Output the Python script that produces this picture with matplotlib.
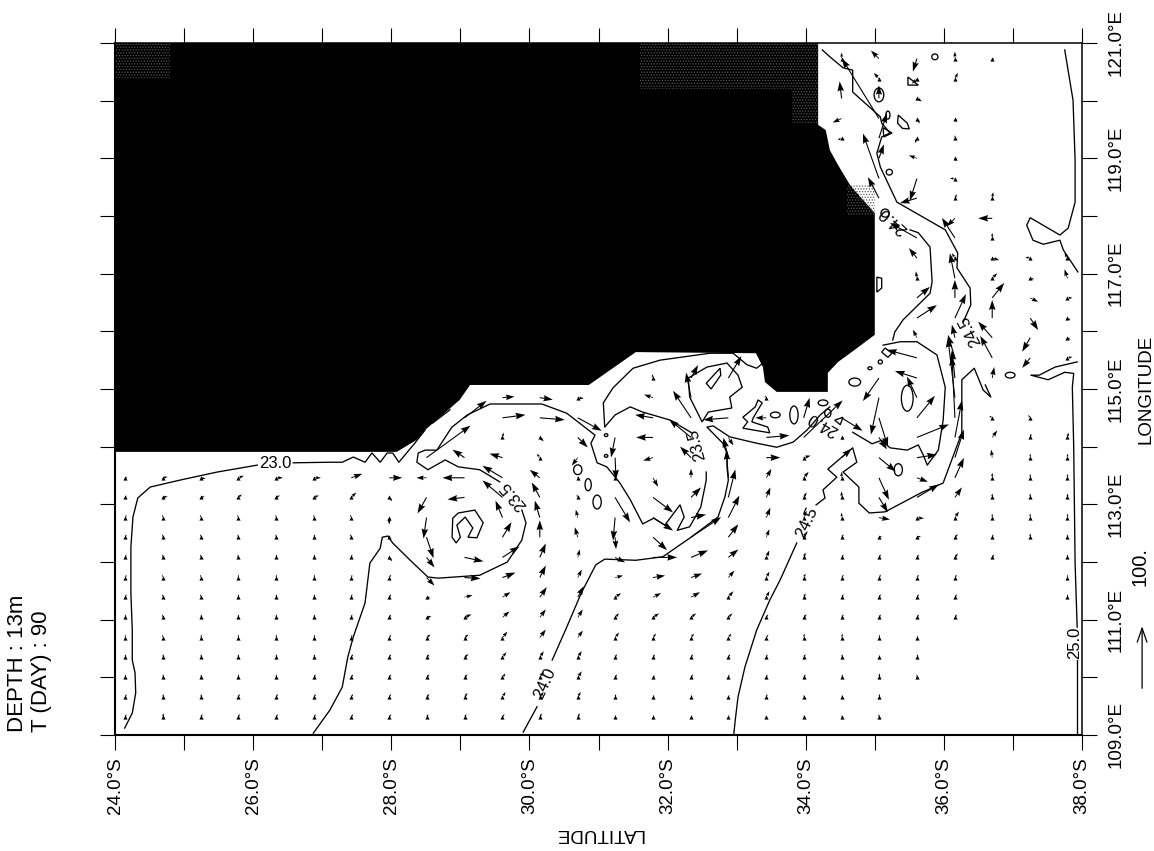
import matplotlib
matplotlib.use("Agg")
import matplotlib.pyplot as plt
from matplotlib.patches import Polygon, Ellipse, Rectangle
import numpy as np

plt.rcParams["font.family"] = ["Liberation Sans", "DejaVu Sans"]
plt.rcParams["hatch.linewidth"] = 0.6

n = np.nan

# ===== AXES =====
LAT_TICKS = list(range(24, 39))
LON_TICKS = list(range(109, 122))
LAT_LABELS = ["24.0°S", "", "26.0°S", "", "28.0°S", "", "30.0°S", "", "32.0°S", "", "34.0°S", "", "36.0°S", "", "38.0°S"]
LON_LABELS = ["109.0°E", "", "111.0°E", "", "113.0°E", "", "115.0°E", "", "117.0°E", "", "119.0°E", "", "121.0°E"]

# ===== LAND =====
land = [(24, 121), (34.18, 121), (34.18, 119.58), (34.29, 119.49), (34.35, 119.14), (34.47, 118.88),
        (34.64, 118.54), (34.74, 118.40), (35.00, 118.05), (35.00, 115.94), (34.71, 115.68), (34.47, 115.47),
        (34.32, 115.28), (34.32, 114.95), (33.58, 114.95), (33.41, 115.12), (33.38, 115.38), (33.28, 115.62),
        (31.54, 115.64), (30.86, 115.07), (29.14, 115.07), (28.99, 114.81), (28.49, 114.29), (28.37, 114.12),
        (28.08, 113.91), (24, 113.91)]

# ===== ISOTHERMS (lat, lon) =====
iso_lines = [
    # 23.0
    [(24.14, 109.12), (24.25, 109.38), (24.30, 109.73), (24.29, 110.08), (24.25, 110.30), (24.25, 110.82),
     (24.23, 111.46), (24.23, 112.26), (24.26, 112.78), (24.33, 113.11), (24.51, 113.30), (24.94, 113.42),
     (25.48, 113.56), (26.06, 113.68)],
    [(26.58, 113.72), (27.11, 113.73), (27.29, 113.73), (27.45, 113.82), (27.62, 113.73), (27.72, 113.89),
     (27.84, 113.73), (27.94, 113.89), (28.02, 113.89), (28.11, 113.73), (28.34, 114.06), (28.49, 114.29)],
    [(28.60, 114.41), (28.85, 114.64)],
    # 23.5
    [(26.87, 109.03), (27.11, 109.43), (27.29, 109.83), (27.37, 110.35), (27.45, 110.70), (27.62, 111.29),
     (27.69, 111.98), (27.84, 112.24), (27.87, 112.43), (27.95, 112.45), (28.02, 112.33), (28.30, 112.00),
     (28.53, 111.74), (28.68, 111.72), (29.28, 111.77), (29.68, 112.00), (29.89, 112.38), (29.95, 112.68),
     (29.89, 112.90)],
    [(29.57, 113.39), (29.28, 113.60), (28.97, 113.65), (28.78, 113.77), (28.53, 113.60), (28.37, 113.73),
     (28.39, 113.89), (28.49, 113.94), (28.66, 113.94), (28.85, 114.29), (28.88, 114.34), (29.10, 114.55),
     (29.43, 114.74), (30.18, 114.74), (30.54, 114.58), (30.95, 114.20), (30.89, 114.06), (30.98, 113.72),
     (31.12, 113.65), (31.31, 113.37), (31.46, 113.08), (31.64, 112.66), (31.80, 112.76), (31.96, 112.64),
     (32.18, 112.99), (32.24, 112.78), (32.14, 112.55), (32.32, 112.61), (32.48, 112.95), (32.56, 113.42),
     (32.56, 113.56)],
    [(32.35, 114.24), (32.04, 114.46), (31.64, 114.60), (31.46, 114.69), (31.24, 114.55), (31.09, 114.34),
     (31.07, 114.76), (31.21, 115.02), (31.50, 115.36), (31.89, 115.50), (32.61, 115.62), (32.95, 115.62),
     (33.15, 115.42), (33.29, 115.36), (33.38, 115.45)],
    # 24.0
    [(34.35, 114.69), (34.21, 114.55), (34.02, 114.29), (33.82, 114.08), (33.58, 113.99), (33.29, 114.06),
     (32.90, 114.17), (32.66, 114.36), (32.57, 114.34), (32.80, 114.06), (32.86, 113.89), (32.86, 113.65),
     (32.88, 113.42), (32.83, 113.13), (32.73, 112.78), (32.34, 112.43), (31.93, 112.09), (31.54, 112.03),
     (31.09, 112.05), (30.96, 111.95), (30.75, 111.46), (30.54, 110.87), (30.33, 110.30)],
    [(30.11, 109.49), (29.91, 109.05)],
    [(35.12, 115.76), (35.37, 115.82), (35.61, 115.82), (35.90, 115.59), (36.02, 115.03), (35.99, 114.46),
     (35.92, 113.94), (35.76, 113.68), (35.70, 113.86), (35.63, 114.03), (35.47, 113.94), (35.22, 113.98),
     (35.10, 114.11), (34.96, 114.05), (34.68, 114.25)],
    [(35.26, 115.85), (35.29, 115.99), (35.41, 116.20), (35.80, 116.66), (35.83, 116.86), (35.80, 117.46),
     (35.63, 117.71), (35.51, 117.76)],
    # 24.5
    [(32.96, 109.03), (32.98, 109.26), (33.02, 109.66), (33.12, 110.18), (33.29, 110.82), (33.48, 111.34),
     (33.63, 111.69), (33.87, 112.33)],
    [(34.15, 112.99), (34.28, 113.11), (34.25, 113.25), (34.45, 113.47), (34.32, 113.61), (34.68, 113.98),
     (34.74, 113.73), (34.54, 113.56), (34.77, 113.30), (34.77, 113.02), (34.92, 112.85), (35.15, 112.87),
     (35.67, 113.20), (35.99, 113.37), (36.26, 114.24), (36.26, 115.16), (36.44, 115.36), (36.57, 114.98),
     (36.68, 114.86), (36.60, 115.07)],
    [(36.28, 116.16), (36.39, 116.46), (36.38, 116.75), (36.19, 117.10), (36.20, 117.36), (36.02, 117.76),
     (35.32, 118.24), (35.08, 118.85), (35.03, 119.09), (35.10, 119.37), (35.22, 119.44), (35.10, 119.61),
     (35.08, 119.72), (34.68, 120.15), (34.68, 120.53), (34.54, 120.57), (34.35, 120.76), (34.24, 120.88)],
    # 25.0
    [(37.75, 120.88), (37.87, 120.01), (37.90, 118.97), (37.90, 118.24), (37.80, 117.79), (37.68, 117.67),
     (37.25, 117.97), (37.20, 117.84), (37.29, 117.58), (37.44, 117.51), (37.68, 117.58), (37.73, 117.41),
     (37.94, 117.03)],
    [(37.93, 115.47), (37.61, 115.38), (37.38, 115.24), (37.26, 115.24), (37.51, 115.16), (37.75, 115.29),
     (37.88, 115.27), (37.86, 115.03), (37.88, 113.99), (37.90, 111.98), (37.93, 110.87)],
    [(37.93, 110.30), (37.93, 109.03)],
]

iso_closed = [
    [(28.89, 112.76), (28.97, 112.85), (29.21, 112.90), (29.33, 112.68), (29.24, 112.42), (29.11, 112.43),
     (29.18, 112.59), (29.07, 112.78), (28.95, 112.64), (29.00, 112.43), (28.94, 112.33), (28.88, 112.43)],
    [(32.30, 115.19), (32.32, 114.86), (32.50, 114.43), (32.59, 114.60), (32.93, 114.67), (32.90, 114.86),
     (33.08, 115.03), (33.02, 115.24), (32.86, 115.45), (32.57, 115.38)],
    [(32.76, 115.36), (32.77, 115.24), (32.63, 115.00), (32.56, 115.10)],
    [(33.09, 114.51), (33.27, 114.69), (33.31, 114.81), (33.37, 114.76), (33.24, 114.50), (33.22, 114.43),
     (33.45, 114.34), (33.48, 114.24), (33.09, 114.32), (33.16, 114.43)],
    [(35.48, 120.41), (35.63, 120.27), (35.48, 120.27)],
    [(35.34, 119.75), (35.33, 119.61), (35.40, 119.52), (35.50, 119.51), (35.47, 119.61)],
    [(35.12, 119.53), (35.25, 119.44), (35.13, 119.37)],
    [(35.15, 115.71), (35.25, 115.62), (35.19, 115.55), (35.10, 115.64)],
    [(35.03, 116.94), (35.10, 116.92), (35.10, 116.75), (35.03, 116.68)],
    [(34.42, 114.46), (34.54, 114.51), (34.50, 114.38)],
]

ring_lat = [30.70, 30.85, 30.98, 31.11, 31.11, 33.56, 33.83, 34.25, 34.32, 34.71, 35.08, 34.93, 35.47, 35.34,
            35.87, 35.06, 35.19, 35.21, 35.15, 36.96]
ring_lon = [113.60, 113.34, 113.04, 114.20, 113.84, 114.55, 114.55, 114.76, 114.58, 115.12, 115.47, 115.36,
            114.84, 113.60, 120.76, 120.10, 119.75, 118.76, 118.05, 115.24]
ring_w = [.12, .09, .12, .05, .05, .14, .12, .14, .09, .17, .06, .06, .17, .12, .09, .14, .06, .09, .12, .14]
ring_h = [.17, .21, .24, .05, .05, .10, .31, .10, .14, .14, .07, .05, .45, .21, .10, .24, .14, .10, .14, .10]

iso_text = ["23.0", "23.5", "23.5", "24.0", "24.5", "24.5", "24.0", "24.0", "25.0"]
iso_text_lat = [26.32, 29.77, 32.42, 30.23, 34.02, 36.38, 35.26, 34.25, 37.90]
iso_text_lon = [113.70, 113.15, 114.03, 109.90, 112.68, 116.02, 117.93, 114.40, 110.60]
iso_text_rot = [0, 130, 105, 65, 65, 117, 138, 150, 90]

# ===== CURRENT VECTORS (arrow length, KEY_LEN = 100.) =====
KEY_LEN = 62
vec_lat = [24.15, 24.69, 25.24, 25.78, 26.33, 26.88, 27.42, 27.97, 28.51, 29.06, 29.61, 30.15, 30.70,
           31.24, 31.79, 32.34, 32.88, 33.43, 33.97, 34.52, 35.06, 35.61, 36.16, 36.70, 37.25, 37.79]
vec_lon = [109.31, 109.66, 110.00, 110.35, 110.69, 111.04, 111.39, 111.73, 112.08, 112.43, 112.77, 113.12,
           113.46, 113.81, 114.16, 114.50, 114.85, 115.19, 115.54, 115.89, 116.23, 116.58, 116.92, 117.27,
           117.62, 117.96, 118.31, 118.65, 119.00, 119.35, 119.69, 120.04, 120.38, 120.73]

u_rows = [
    [1, 1, 2, 2, 2, 2, 2, 2, 2, 2, 2, 2, 2, 1, 1, 1, 1, -1, 1, 0, 0],
    [1, 1, 1, 2, 2, 2, 2, 2, 3, 3, 3, 4, 3, 1, 1, 1, 1, 1, 0, 1, 1],
    [0, 1, 1, 1, 1, 2, 2, 2, 3, 3, 3, 4, 4, 2, 2, 2, 1, 1, 2, 1, 1, 0],
    [0, 1, 1, 1, 1, 1, 2, 2, 3, 4, 4, 4, 4, 2, 2, 2, 2, 1, 2, 1, 1, 1],
    [0, 0, 1, 1, 1, 1, 1, 2, 4, 4, 5, 6, 5, 4, 3, 3, 3, 2, 1, 1, 1, 1],
    [0, 0, 1, 1, 1, 1, 1, 2, 5, 7, 7, 6, 5, 4, 6, 5, 4, 2, 3, 2, 2, 2, 2],
    [1, 0, 0, 1, 1, 1, 1, 2, 4, 8, 8, 7, 6, 6, 8, 9, 5, 3, 2, 2, 2, 2, 2, n, n, 0],
    [1, 0, 0, 1, 1, 1, 1, 2, 8, 16, 13, 6, 4, 8, 12, 11, 6, 3, 2, 2, 2, 2, 2, n, n, 0],
    [1, 0, 0, 0, 1, 1, 1, 3, 8, 19, 17, 6, 2, 10, 24, 17, 10, 3, 2, 2, 2, 2, 3, 2, n, 0],
    [1, 0, 0, 0, 0, 1, -1, 0, 7, n, 9, 0, -3, 1, 14, 30, 10, 3, 2, 2, 3, 4, 3, 1, 0, 0],
    [1, 0, 0, 0, 0, 0, -1, 0, -3, n, -7, -5, -2, -2, 20, 15, 11, 4, 3, 0, 11, 7, 4, 0, 0, 0],
    [1, 5, 4, 4, 4, 5, 5, 3, -9, -17, -20, -8, -1, 15, 20, 10, 7, 4, 3, 0, 9, 22, 7, 0, 0, 0],
    [2, 5, 5, 6, 7, 7, 11, 13, -10, -22, -20, -10, 0, 1, 5, 0, -2, 5, 5, 0, 10, 11, 9, 0, 0, 0],
    [n] * 8 + [44, -12, -13, -3, -6, 1, -10, -11, -5, 14, 7, 10, 17, 20, 9, -1, 0, 0],
    [n] * 10 + [1, 4, 10, -4, -17, -22, 5, 23, 39, 1, 8, 32, 7, 5, 1, 1],
    [n] * 9 + [22, 23, 25, 24, n, -18, -18, -25, -11, 6, 21, 9, 18, -3, -3, -2],
    [n] * 10 + [12, 13, 6, n, -9, -5, n, -2, n, n, -8, -10, -7],
    [n] * 14 + [-1, 7, 13, n, n, n, -16, -22, -3, 2],
    [n] * 21 + [-30, -7, -12, -8, 5],
    [n] * 21 + [-4, -3, -14, -8, 3],
    [n] * 21 + [20, 11, 0, 8, 3],
    [n] * 21 + [13, 0, 12, 8, 5],
    [n] * 21 + [-1, -5, 5, 4, -3],
    [n] * 21 + [-8, -3, 7, -5, -3],
    [n] * 21 + [-27, -13, 0],
    [n] * 22 + [-8, -14],
    [n] * 20 + [-11, -17, 2, 1],
    [n] * 20 + [-16, -7, -5],
    [n] * 20 + [5, -8, 2],
    [n] * 19 + [-4, 8, -2, 0],
    [n] * 19 + [-9, -37, 3, 2],
    [n] * 19 + [-2, 0, 5],
    [n] * 20 + [-5, -5, 3],
    [n] * 19 + [0, -8, -4, 0, 2],
]
v_rows = [
    [3, 4, 3, 3, 3, 3, 3, 3, 3, 3, 3, 4, 4, 2, 2, 2, 2, 1, 2, 2, 3],
    [3, 3, 3, 3, 3, 3, 3, 3, 3, 4, 5, 5, 5, 3, 2, 2, 2, 3, 2, 2, 3],
    [3, 3, 3, 3, 3, 3, 3, 3, 3, 3, 4, 6, 6, 3, 2, 3, 3, 3, 3, 3, 4, 3],
    [3, 3, 3, 3, 3, 3, 3, 3, 3, 3, 5, 6, 6, 3, 3, 3, 3, 3, 3, 3, 2, 3],
    [3, 3, 3, 3, 3, 3, 3, 3, 3, 3, 6, 8, 7, 5, 4, 4, 4, 3, 4, 4, 3, 2],
    [3, 3, 3, 3, 3, 3, 3, 3, 1, 3, 6, 8, 8, 4, 4, 4, 4, 3, 3, 3, 3, 3, 3],
    [3, 3, 3, 3, 3, 3, 3, 3, -1, 2, 5, 10, 11, 4, 4, 5, 6, 6, 4, 3, 3, 3, 3, n, n, 3],
    [3, 3, 3, 3, 3, 3, 3, 3, -8, -1, 5, 12, 8, 2, 2, 4, 7, 6, 4, 3, 3, 3, 3, n, n, 3],
    [3, 3, 3, 3, 3, 3, 3, -4, -10, -4, 11, 14, 8, -5, 0, 7, 8, 7, 5, 3, 3, 3, 4, 3, n, 3],
    [3, 3, 3, 3, 3, 3, 3, 2, -21, n, 15, 17, 10, -12, -13, 20, 13, 8, 5, 3, 1, 1, 3, 3, 4, 3],
    [3, 3, 3, 3, 3, 3, 3, -7, -21, n, 17, 17, 8, -23, -13, 3, 22, 10, 7, 5, -2, -1, 6, 4, 4, 4],
    [2, 1, 1, 3, 2, 2, 5, -4, -16, -2, 17, 15, 3, -25, -15, 10, 28, 10, 5, 6, -15, 13, 10, 4, 4, 4],
    [1, 1, -1, 2, 0, 0, 4, 0, 0, 0, 12, 8, 1, -1, -9, 9, 28, 9, 6, 6, -22, -4, 20, 5, 4, 4],
    [n] * 8 + [32, 8, 4, 4, -8, -22, -3, 11, 20, 0, 2, 9, -14, 3, 28, 8, 4, 4],
    [n] * 10 + [5, -4, -10, -20, 0, 18, -8, 2, 37, -3, -12, 13, 37, 7, 4, 5],
    [n] * 9 + [17, 3, -2, -13, n, 3, 27, -2, 0, 20, -13, -29, 22, 62, 2, 3],
    [n] * 10 + [1, -2, -1, n, 3, 25, n, 2, n, n, -37, 21, 60],
    [n] * 14 + [4, 13, 22, n, n, n, -23, 7, 28, 11],
    [n] * 21 + [8, 23, 22, -10, 1],
    [n] * 21 + [8, 13, 16, -14, -2],
    [n] * 21 + [13, 24, 18, -12, -2],
    [n] * 21 + [11, 18, 15, -4, 0],
    [n] * 21 + [7, 25, 5, -1, 9],
    [n] * 21 + [10, 5, -2, 1, 5],
    [n] * 21 + [15, 20, 5],
    [n] * 22 + [-8, 0],
    [n] * 20 + [21, -5, 4, 6],
    [n] * 20 + [45, -22, 0],
    [n] * 20 + [14, 3, -3],
    [n] * 19 + [-2, 25, -5, 3],
    [n] * 19 + [-4, 60, -5, -3],
    [n] * 19 + [17, 13, -3],
    [n] * 20 + [6, -5, 6],
    [n] * 19 + [6, 8, -13, 7, 0],
]

U = np.array([r + [n] * (26 - len(r)) for r in u_rows], dtype=float)
V = np.array([r + [n] * (26 - len(r)) for r in v_rows], dtype=float)
LAT, LON = np.meshgrid(vec_lat, vec_lon)

# ===== FIGURE =====
fig = plt.figure(figsize=(11.54, 8.51), dpi=100)
ax = fig.add_axes([115 / 1154, (851 - 735) / 851, 967 / 1154, 692 / 851])
ax.set_xlim(24, 38)
ax.set_ylim(109, 121)

ax.add_patch(Polygon(land, closed=True, facecolor="black", edgecolor="none", zorder=1))
# dithered speckle in the shaded land
for x0, y0, w, h in [(33.8, 119.6, 0.38, 1.4), (34.6, 118.0, 0.4, 0.55), (31.6, 120.2, 2.2, 0.8), (24.0, 120.4, 0.8, 0.6)]:
    ax.add_patch(Rectangle((x0, y0), w, h, facecolor="none", edgecolor="#555555", hatch="......", lw=0, zorder=1.5))

for line in iso_lines:
    a = np.array(line)
    ax.plot(a[:, 0], a[:, 1], color="black", lw=0.95, zorder=3)
for line in iso_closed:
    ax.add_patch(Polygon(line, closed=True, fill=False, edgecolor="black", lw=0.95, zorder=3))
for x, y, w, h in zip(ring_lat, ring_lon, ring_w, ring_h):
    ax.add_patch(Ellipse((x, y), w, h, fill=False, edgecolor="black", lw=0.95, zorder=3))

for s, x, y, r in zip(iso_text, iso_text_lat, iso_text_lon, iso_text_rot):
    ax.text(x, y, s, fontsize=12, rotation=r, ha="center", va="center", rotation_mode="anchor", zorder=4)

speed = np.hypot(U, V)
small = speed < 8
ax.scatter(LAT[small], LON[small], s=9, marker="^", color="black", linewidths=0, zorder=4)
ax.quiver(LAT, LON, U, V, angles="uv", units="dots", scale_units="dots", scale=1, pivot="tail",
          width=1.1, headwidth=6, headlength=9, headaxislength=8, minshaft=1.4, color="black", zorder=5)

# ===== TICKS AND LABELS =====
ax.set_xticks(LAT_TICKS)
ax.set_xticklabels(LAT_LABELS, rotation=90, fontsize=13.5)
ax.set_yticks(LON_TICKS)
ax.set_yticklabels(LON_LABELS, rotation=90, va="center", fontsize=13.5)
ax.tick_params(axis="x", direction="out", length=10.8, width=0.8, top=True, pad=5)
ax.tick_params(axis="y", direction="out", length=10.8, width=0.8, left=True, right=True, labelleft=False, labelright=True, pad=8)
for s in ax.spines.values():
    s.set_linewidth(1.1)
ax.spines["left"].set_linewidth(1.5)
ax.spines["bottom"].set_linewidth(1.5)

ax.set_xlabel("LATITUDE", rotation=180, fontsize=13.5, labelpad=8)
ax.yaxis.set_label_position("right")
ax.set_ylabel("LONGITUDE", rotation=90, fontsize=13.5, labelpad=9)

fig.text(18 / 1154, (851 - 732) / 851, "DEPTH : 13m", rotation=90, fontsize=16, ha="center", va="bottom")
fig.text(41 / 1154, (851 - 732) / 851, "T (DAY) : 90", rotation=90, fontsize=16, ha="center", va="bottom")

# vector key
ax.annotate("", xy=(38.87, 109.81 + KEY_LEN / 57.67), xytext=(38.87, 109.81), annotation_clip=False,
            arrowprops=dict(arrowstyle="->,head_length=1.0,head_width=0.35", lw=0.9, color="black", shrinkA=0, shrinkB=0))
ax.text(38.84, 111.93, "100.", rotation=90, fontsize=14.5, ha="center", va="center", clip_on=False)

fig.savefig("out.png", dpi=100)
